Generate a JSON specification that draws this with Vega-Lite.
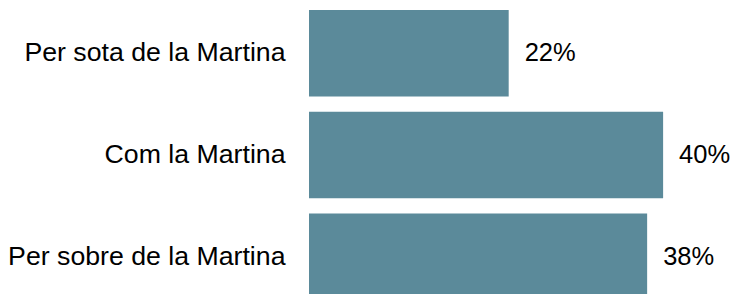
{
  "$schema": "https://vega.github.io/schema/vega-lite/v6.json",
  "autosize": "none",
  "padding": {"left": 309, "top": 10, "right": 70, "bottom": 0},
  "width": 355,
  "height": 290,
  "background": "white",
  "config": {"view": {"stroke": null}, "font": "Liberation Sans"},
  "data": {
    "values": [
      {"categoria": "Per sota de la Martina", "valor": 22.5, "etiqueta": "22%"},
      {"categoria": "Com la Martina", "valor": 39.9, "etiqueta": "40%"},
      {"categoria": "Per sobre de la Martina", "valor": 38.1, "etiqueta": "38%"}
    ]
  },
  "encoding": {
    "y": {
      "field": "categoria",
      "type": "nominal",
      "sort": null,
      "scale": {"paddingInner": 0.15, "paddingOuter": 0},
      "axis": {
        "title": null,
        "domain": false,
        "ticks": false,
        "labelPadding": 24,
        "labelFontSize": 26.7,
        "labelColor": "#000000",
        "labelFont": "Liberation Sans",
        "labelLimit": 400
      }
    },
    "x": {
      "field": "valor",
      "type": "quantitative",
      "scale": {"domain": [0, 40], "nice": false},
      "axis": null
    }
  },
  "layer": [
    {"mark": {"type": "bar", "color": "#5b8a9a"}},
    {
      "mark": {"type": "text", "align": "left", "baseline": "middle", "dx": 16, "fontSize": 25.5, "color": "#000000", "font": "Liberation Sans"},
      "encoding": {"text": {"field": "etiqueta"}}
    }
  ]
}
